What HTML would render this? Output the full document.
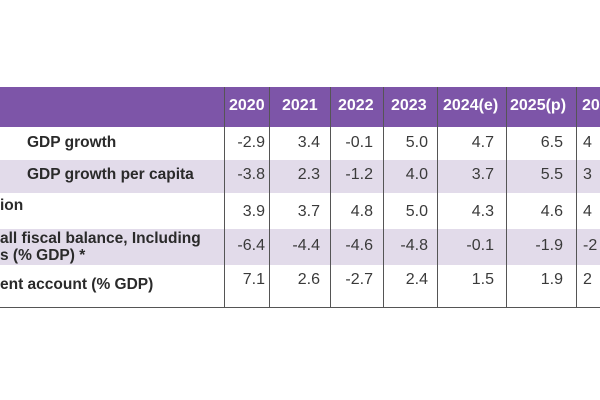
<!DOCTYPE html>
<html><head><style>
body{margin:0;width:600px;height:400px;background:#fff;position:relative;overflow:hidden;font-family:"Liberation Sans",Arial,sans-serif;color:#333}
.a{position:absolute}
.hd{left:0;top:87px;width:600px;height:40px;background:#7d55a8}
.band{left:0;width:600px;background:#e2dbea}
.v{position:absolute;width:1px;background:#555;top:87px;height:221px}
.h{position:absolute;color:#fff;font-weight:bold;font-size:16px;top:97px;white-space:nowrap}
.l{position:absolute;font-weight:bold;font-size:15.5px;white-space:nowrap;line-height:17px;color:#2a2a2a}
.n{position:absolute;font-size:16px;text-align:right;white-space:nowrap;color:#3a3a3a}
</style></head><body>
<div class="a hd"></div>
<div class="a band" style="top:160px;height:33px"></div>
<div class="a band" style="top:229px;height:36px"></div>
<div class="a" style="left:0;top:307px;width:600px;height:1px;background:#555"></div>
<div class="v" style="left:224px"></div><div class="v" style="left:269px"></div><div class="v" style="left:330px"></div><div class="v" style="left:383px"></div><div class="v" style="left:437px"></div><div class="v" style="left:506px"></div><div class="v" style="left:576px"></div>
<div class="h" style="left:229px">2020</div><div class="h" style="left:282px">2021</div><div class="h" style="left:338px">2022</div><div class="h" style="left:391px">2023</div><div class="h" style="left:443px">2024(e)</div><div class="h" style="left:510px">2025(p)</div><div class="h" style="left:582px">2026</div>
<div class="l" style="left:27px;top:134px">GDP growth</div>
<div class="l" style="left:27px;top:166px">GDP growth per capita</div>
<div class="l" style="left:0px;top:197px">ion</div>
<div class="l" style="left:0px;top:230px">all fiscal balance, Including<br>s (% GDP) *</div>
<div class="l" style="left:0px;top:276px">ent account (% GDP)</div>
<div id="nums"></div>
<script>
var rows=[[134,"-2.9","3.4","-0.1","5.0","4.7","6.5","4"],[166,"-3.8","2.3","-1.2","4.0","3.7","5.5","3"],[203,"3.9","3.7","4.8","5.0","4.3","4.6","4"],[237,"-6.4","-4.4","-4.6","-4.8","-0.1","-1.9","-2"],[271,"7.1","2.6","-2.7","2.4","1.5","1.9","2"]];
var rights=[265,320,373,428,494,563];var h="";
rows.forEach(function(r){for(var i=0;i<6;i++){h+='<div class="n" style="right:'+(600-rights[i])+'px;top:'+r[0]+'px">'+r[i+1]+'</div>';}
h+='<div class="n" style="left:583px;top:'+r[0]+'px;text-align:left">'+r[7]+'</div>';});
document.getElementById("nums").innerHTML=h;
</script>
</body></html>
